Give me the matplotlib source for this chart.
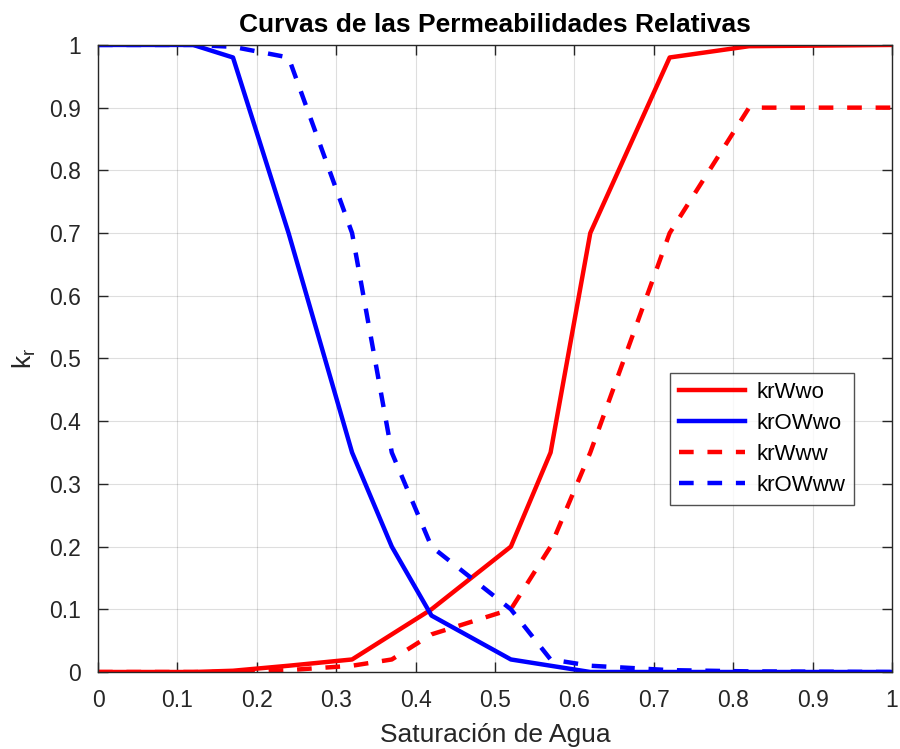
import matplotlib
matplotlib.use("Agg")
import matplotlib.pyplot as plt

plt.rcParams["font.family"] = ["Liberation Sans", "DejaVu Sans"]
plt.rcParams["mathtext.fontset"] = "custom"
plt.rcParams["mathtext.rm"] = "Liberation Sans"
plt.rcParams["mathtext.it"] = "Liberation Sans"

# Water saturation and relative permeability curves
sw = [0, 0.12, 0.17, 0.24, 0.32, 0.37, 0.42, 0.52, 0.57, 0.62, 0.72, 0.82, 1.0]
krw_wo = [0, 0, 0.002, 0.01, 0.02, 0.06, 0.1, 0.2, 0.35, 0.7, 0.98, 0.998, 1.0]
krow_wo = [1, 1, 0.98, 0.7, 0.35, 0.2, 0.09, 0.02, 0.01, 0.0, 0, 0, 0]
krw_ww = [0, 0, 0, 0.003, 0.01, 0.02, 0.06, 0.1, 0.2, 0.35, 0.7, 0.9, 0.9]
krow_ww = [1, 1, 0.997, 0.98, 0.7, 0.35, 0.2, 0.1, 0.02, 0.01, 0.003, 0.001, 0]

ticks = [0, 0.1, 0.2, 0.3, 0.4, 0.5, 0.6, 0.7, 0.8, 0.9, 1]
tick_labels = ["0", "0.1", "0.2", "0.3", "0.4", "0.5", "0.6", "0.7", "0.8", "0.9", "1"]

fig = plt.figure(figsize=(9, 7.49), dpi=100)
ax = fig.add_axes([0.1089, 0.1028, 0.8822, 0.8372])

lw = 3.2
dash = (0, (3.3, 3.1))
ax.plot(sw, krw_wo, color="#ff0000", lw=lw, label="krWwo")
ax.plot(sw, krow_wo, color="#0000ff", lw=lw, label="krOWwo")
ax.plot(sw, krw_ww, color="#ff0000", lw=lw, ls=dash, label="krWww")
ax.plot(sw, krow_ww, color="#0000ff", lw=lw, ls=dash, label="krOWww")

ax.set_xlim(0, 1)
ax.set_ylim(0, 1)
ax.set_xticks(ticks)
ax.set_xticklabels(tick_labels)
ax.set_yticks(ticks)
ax.set_yticklabels(tick_labels)

ax.grid(True, color="#262626", alpha=0.15, lw=0.8)
ax.set_axisbelow(True)
for s in ax.spines.values():
    s.set_color("#262626")
    s.set_linewidth(1.0)
ax.tick_params(direction="in", length=7, width=1.0, colors="#262626",
               labelcolor="#262626", labelsize=16.5, top=True, right=True, pad=12)

ax.set_title("Curvas de las Permeabilidades Relativas", fontsize=19,
             fontweight="bold", pad=9)
ax.set_xlabel("Saturación de Agua", fontsize=19, color="#262626", labelpad=8)
ax.set_ylabel("k$_r$", fontsize=19, color="#262626", labelpad=8)

leg = ax.legend(loc="upper left", bbox_to_anchor=(0.72, 0.477), fontsize=16,
                frameon=True, fancybox=False, handlelength=3.0,
                borderpad=0.4, labelspacing=0.45, handletextpad=0.5,
                borderaxespad=0)
leg.get_frame().set_edgecolor("#262626")
leg.get_frame().set_linewidth(1.0)

fig.savefig("out.png", dpi=100)
